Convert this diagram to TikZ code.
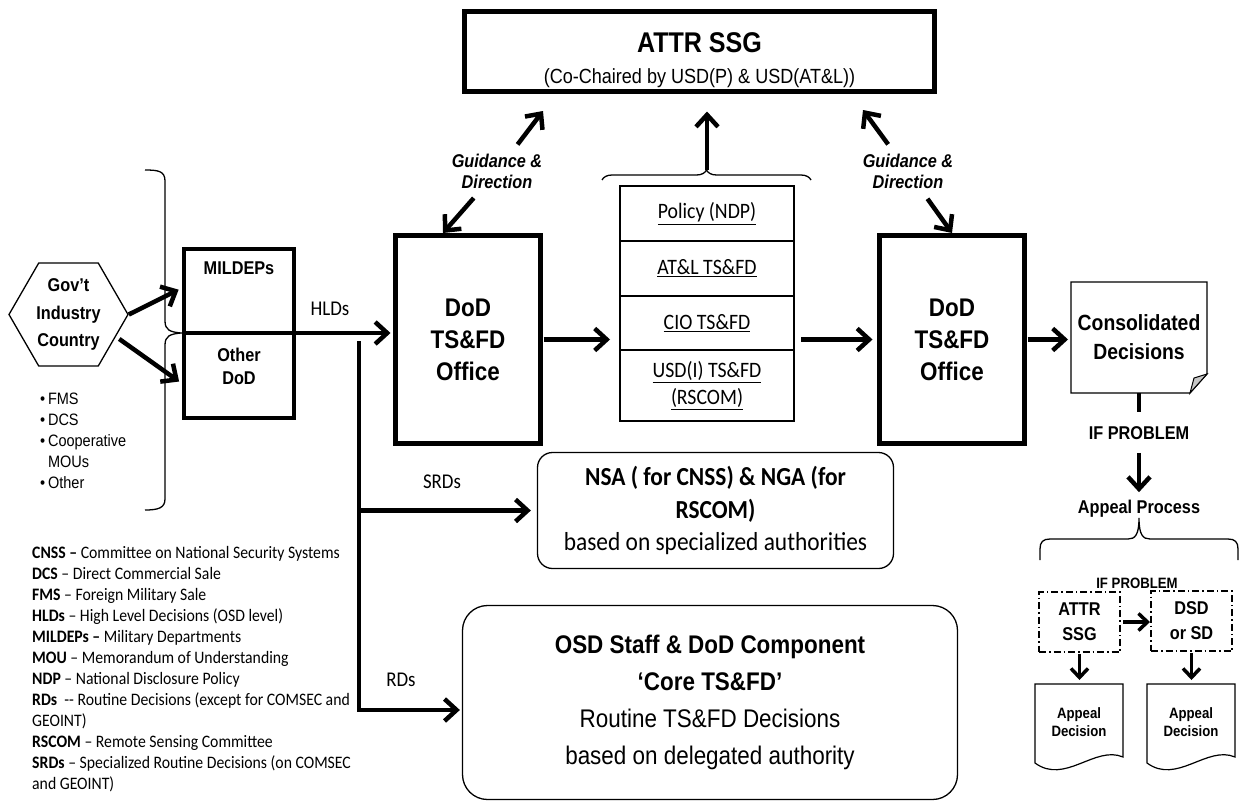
\documentclass[tikz,border=0pt]{standalone}
\usepackage{fontspec}
\setmainfont[FakeStretch=0.88]{Liberation Sans}
\newfontfamily\calfont[FakeStretch=0.9]{Carlito}
\usetikzlibrary{positioning,calc,shapes.geometric,arrows.meta,decorations.pathreplacing}

\begin{document}
\begin{tikzpicture}[x=1pt,y=-1pt,
        txt/.style={inner sep=0pt,align=center},
        hd/.style={txt,font=\bfseries\fontsize{18.5}{23}\selectfont},
        cal/.style={txt,font=\calfont\fontsize{21}{24}\selectfont},
        thickbox/.style={draw,line width=5pt,inner sep=0pt,outer sep=0pt},
        office/.style={thickbox,minimum width=145pt,minimum height=208pt,align=center,font=\bfseries\fontsize{25.5}{32}\selectfont},
        cell/.style={draw,line width=1.8pt,minimum width=174pt,inner sep=0pt,outer sep=0pt,align=center,font=\calfont\fontsize{22}{27}\selectfont},
        rbox/.style={draw,line width=1.3pt,rounded corners=15pt,inner sep=0pt,align=center},
        dashbox/.style={draw,line width=2pt,dash pattern=on 7pt off 3pt on 1.5pt off 3pt,minimum width=81pt,minimum height=60pt,inner sep=0pt,align=center,font=\bfseries\fontsize{18.5}{25}\selectfont},
        doc/.style={minimum width=88pt,minimum height=76pt,inner sep=0pt,outer sep=0pt,align=center,font=\bfseries\fontsize{15}{18.5}\selectfont},
        guide/.style={txt,font=\bfseries\itshape\fontsize{18.5}{21}\selectfont},
        arr/.style={line width=4.5pt,-{Straight Barb[length=12pt,width=22pt]}},
        sarr/.style={line width=3.5pt,-{Straight Barb[length=9pt,width=17pt]}},
        brc/.style={line width=1.3pt,decorate,decoration={brace,amplitude=#1}},
        curl/.style={line width=1.3pt}
    ]
        \useasboundingbox (0,0) rectangle (1239,803);

        \node (attr) at (699.5,51.5) [thickbox,minimum width=470pt,minimum height=80pt] {};
        \node (attrtitle) at (699.5,43) [txt,font=\bfseries\fontsize{28.5}{30}\selectfont] {ATTR SSG};
        \node (attrsub) at (699.5,78) [txt,font=\fontsize{20.5}{22}\selectfont] {(Co-Chaired by USD(P) \& USD(AT\&L))};

        \node (gov) at (68.5,314.5) [regular polygon,regular polygon sides=6,draw,line width=1.3pt,minimum size=119pt,inner sep=0pt,align=center,font=\bfseries\fontsize{18.5}{27.5}\selectfont] {Gov’t\\Industry\\Country};
        \node (bul) at (40,393) [anchor=north west,inner sep=0pt,align=left,font=\fontsize{16.5}{21}\selectfont]
            {\textbullet\,FMS\\\textbullet\,DCS\\\textbullet\,Cooperative\\\phantom{\textbullet\,}MOUs\\\textbullet\,Other};
        \draw[curl] (145,170) .. controls (158,170) and (165,171) .. (165,181) -- (165,321)
            .. controls (165,330) and (170,332) .. (181,333) .. controls (170,334) and (165,336) .. (165,345)
            -- (165,499) .. controls (165,508) and (158,510) .. (145,510);

        \node (mil) at (239,291) [thickbox,line width=4pt,minimum width=110pt,minimum height=84pt] {};
        \node (oth) at (239,375.5) [thickbox,line width=4pt,minimum width=110pt,minimum height=85pt] {};
        \node (miltxt) at (239,268) [hd] {MILDEPs};
        \node (othtxt) at (239,366.5) [hd] {Other\\DoD};

        \node (dod1) at (468,339.5) [office] {DoD\\TS\&FD\\Office};
        \node (dod2) at (952,339.5) [office] {DoD\\TS\&FD\\Office};

        \node (pol) at (707,213.5) [cell,minimum height=55pt] {\underline{Policy (NDP)}};
        \node (atl) [cell,minimum height=55pt,below=0pt of pol] {\underline{AT\&L TS\&FD}};
        \node (cio) [cell,minimum height=54pt,below=0pt of atl] {\underline{CIO TS\&FD}};
        \node (usdi) [cell,minimum height=71pt,below=0pt of cio] {\underline{USD(I) TS\&FD}\\\underline{(RSCOM)}};
        \coordinate (sbl) at (602,180);
        \coordinate (sbr) at (811,180);
        \coordinate (stip) at (707,170);
        \draw[brc=10pt] (sbl) -- (sbr);

        \node (gd1) at (497,171.5) [guide] {Guidance \&\\Direction};
        \node (gd2) at (908,171.5) [guide] {Guidance \&\\Direction};
        \coordinate (g1up) at (543,111);
        \coordinate (g1dn) at (443,233);
        \coordinate (g2up) at (863,110);
        \coordinate (g2dn) at (952,233);

        \node (nsa) at (715.5,510.5) [rbox,minimum width=356pt,minimum height=116pt,font=\calfont\fontsize{26}{32.5}\selectfont]
            {\textbf{NSA ( for CNSS) \& NGA (for}\\\textbf{RSCOM)}\\based on specialized authorities};
        \node (osd) at (710,702.5) [rbox,rounded corners=25pt,minimum width=495pt,minimum height=194pt,font=\fontsize{25.5}{37}\selectfont]
            {\textbf{OSD Staff \& DoD Component}\\\textbf{‘Core TS\&FD’}\\Routine TS\&FD Decisions\\based on delegated authority};

        \node (hld) at (330,309) [cal] {HLDs};
        \node (srd) at (442,482) [cal] {SRDs};
        \node (rd) at (401,680) [cal] {RDs};
        \coordinate (vtop) at (359,341);
        \coordinate (rdbend) at (359,710);

        \node (cons) at (1139,337.5) [minimum width=136pt,minimum height=111pt,inner sep=0pt,outer sep=0pt,align=center,font=\bfseries\fontsize{22}{29}\selectfont] {Consolidated\\Decisions};
        \draw[line width=1.2pt] (cons.north west) -- (cons.north east) -- ([yshift=19pt]cons.south east)
            -- ([xshift=-17pt]cons.south east) -- (cons.south west) -- cycle;
        \filldraw[fill=gray!45,line width=1pt] ([yshift=19pt]cons.south east) -- ([xshift=-17pt]cons.south east)
            -- ([xshift=-13pt,yshift=15pt]cons.south east) -- cycle;
        \node (ifp) at (1139,433) [txt,font=\bfseries\fontsize{18.5}{20}\selectfont] {IF PROBLEM};
        \node (app) at (1139,509) [txt,font=\bfseries\fontsize{18.5}{20}\selectfont] {Appeal Process};
        \draw[curl] (1040,560) -- (1040,549) .. controls (1040,542) and (1043,539) .. (1050,539) -- (1128,539)
            .. controls (1135,539) and (1139,535) .. (1139,518) .. controls (1139,535) and (1143,539) .. (1150,539)
            -- (1228,539) .. controls (1235,539) and (1238,542) .. (1238,549) -- (1238,560);

        \node (ifp2) at (1137,583) [txt,font=\bfseries\fontsize{15}{17}\selectfont] {IF PROBLEM};
        \node (ssg) at (1079.5,622) [dashbox] {ATTR\\SSG};
        \node (dsd) at (1191.5,621) [dashbox] {DSD\\or SD};
        \node (dec1) at (1079,722) [doc] {Appeal\\Decision};
        \node (dec2) at (1191,722) [doc] {Appeal\\Decision};
        \foreach \d in {dec1,dec2}
            \draw[line width=1.2pt] (\d.north west) -- (\d.north east) -- ($(\d.south east)+(0,-3)$)
                .. controls ($(\d.south east)+(-28,-15)$) and ($(\d.south west)+(30,25)$) .. ($(\d.south west)+(0,3)$) -- cycle;

        \node (legend) at (32,546) [anchor=north west,inner sep=0pt,align=left,font=\calfont\fontsize{17.5}{21}\selectfont]
            {\textbf{CNSS –} Committee on National Security Systems\\
             \textbf{DCS} – Direct Commercial Sale\\
             \textbf{FMS} – Foreign Military Sale\\
             \textbf{HLDs} – High Level Decisions (OSD level)\\
             \textbf{MILDEPs –} Military Departments\\
             \textbf{MOU} – Memorandum of Understanding\\
             \textbf{NDP} – National Disclosure Policy\\
             \textbf{RDs}\ \ -{}- Routine Decisions (except for COMSEC and\\
             GEOINT)\\
             \textbf{RSCOM} – Remote Sensing Committee\\
             \textbf{SRDs} – Specialized Routine Decisions (on COMSEC\\
             and GEOINT)};

        \draw[arr,shorten >=6pt] (gov.east) -- ([yshift=4pt]mil.west);
        \draw[arr,shorten <=4pt,shorten >=6pt] (gov.-25) -- ([yshift=-9.5pt]oth.west);
        \draw[arr,shorten >=5pt] (mil.south east) -- (mil.south east -| dod1.west);
        \draw[arr,shorten >=2pt] (vtop) -- (rdbend) -- (rdbend -| osd.west);
        \draw[arr,shorten >=6pt] (vtop |- nsa.west) -- (nsa.west);
        \draw[arr,shorten <=3pt,shorten >=10pt] (dod1.east) -- (dod1.east -| cio.west);
        \draw[arr,shorten <=7pt,shorten >=7pt] (cio.east |- dod2.west) -- (dod2.west);
        \draw[arr,shorten <=3pt,shorten >=3pt] (dod2.east) -- (dod2.east -| cons.west);
        \draw[arr,shorten >=20pt] (stip) -- (stip |- attr.south);
        \draw[arr,shorten <=12pt] (gd1) -- (g1up);
        \draw[arr,shorten <=12pt] (gd1) -- (g1dn);
        \draw[arr,shorten <=12pt] (gd2) -- (g2up);
        \draw[arr,shorten <=12pt] (gd2) -- (g2dn);
        \draw[line width=4.5pt,shorten >=14pt] (cons.south) -- (ifp.north);
        \draw[arr,shorten <=13pt,shorten >=8pt] (ifp.south) -- (app.north);
        \draw[sarr,shorten <=2pt] (ssg.east) -- (ssg.east -| dsd.west);
        \draw[sarr,shorten <=1pt,shorten >=4pt] (ssg.south) -- (ssg.south |- dec1.north);
        \draw[sarr,shorten <=1pt,shorten >=4pt] (dsd.south) -- (dsd.south |- dec2.north);
\end{tikzpicture}
\end{document}
